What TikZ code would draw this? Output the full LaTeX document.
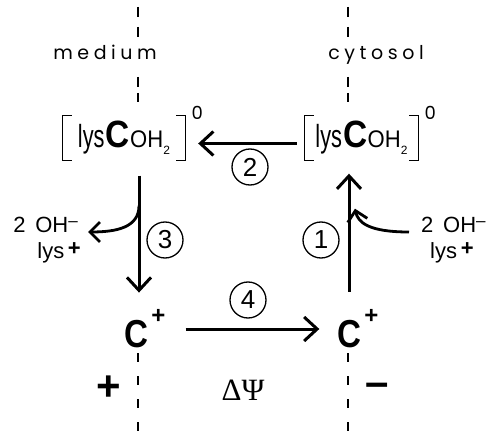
\documentclass[tikz,border=0pt]{standalone}
\usepackage{fontspec}
\usepackage{graphicx}
\setmainfont{Liberation Sans}
\newfontfamily\geofont[LetterSpace=24]{Poppins}
\newfontfamily\zerofont{Poppins}
\newfontfamily\serfont{Liberation Serif}
\usetikzlibrary{arrows.meta,calc}
\newcommand\cplxtext{\scalebox{0.68}[1]{\fontsize{32}{32}\selectfont lys}\kern1pt\scalebox{0.88}[1]{\bfseries\fontsize{38}{38}\selectfont C}\kern0.5pt\scalebox{0.92}[1]{\fontsize{24}{24}\selectfont OH}\raisebox{-7pt}{\fontsize{12}{12}\selectfont 2}}
\newcommand\cplustext{\scalebox{0.85}[1]{\bfseries\fontsize{39}{39}\selectfont C}\rlap{\kern3pt\raisebox{24pt}{\bfseries\fontsize{24}{24}\selectfont +}}}
\begin{document}
\begin{tikzpicture}[x=1pt,y=-1pt,
  memb/.style={line width=1.5pt},
  cplxbox/.style={minimum width=#1, minimum height=45pt, inner sep=0pt},
  brk/.style={line width=1.3pt},
  mainarrow/.style={line width=3pt, -{Straight Barb[length=13pt,width=24pt]}},
  curvearrow/.style={line width=2.8pt, -{Straight Barb[length=10pt,width=20pt]}},
  circnum/.style={circle, draw, line width=1.3pt, minimum size=36pt, inner sep=0pt, font=\fontsize{26}{26}\selectfont},
  ionlbl/.style={font=\fontsize{22}{25}\selectfont, inner sep=0pt},
  membtext/.style={font=\geofont\fontsize{19}{19}\selectfont, inner sep=0pt},
  supz/.style={font=\zerofont\fontsize{18}{18}\selectfont, inner sep=0pt},
  cplus/.style={inner sep=0pt},
  bigsign/.style={inner sep=0pt, font=\bfseries\fontsize{42}{42}\selectfont}
]
\useasboundingbox (0,0) rectangle (488,433);
\coordinate (mL) at (139,0);
\coordinate (mR) at (349,0);
% membrane lines
\draw[memb, dash pattern=on 10pt off 10pt] (138,7) -- (138,37);
\draw[memb, dash pattern=on 10pt off 6pt] (138,77) -- (138,102);
\draw[memb, dash pattern=on 9pt off 14pt] (138,353) -- (138,433);
\draw[memb, dash pattern=on 10pt off 10pt] (348,7) -- (348,37);
\draw[memb, dash pattern=on 10pt off 6pt] (348,77) -- (348,102);
\draw[memb, dash pattern=on 9pt off 14pt] (348,353) -- (348,433);
\node[membtext, anchor=base] (med) at (105,60) {medium};
\node[membtext, anchor=base] (cyt) at (376,60) {cytosol};
% complexes
\node[cplxbox=122pt] (cL) at (124,138) {\cplxtext};
\node[cplxbox=113pt] (cR) at (361.5,138) {\cplxtext};
\draw[brk] ([xshift=9pt]cL.north west) -- (cL.north west) -- (cL.south west) -- ([xshift=9pt]cL.south west);
\draw[brk] ([xshift=-9pt]cL.north east) -- (cL.north east) -- (cL.south east) -- ([xshift=-9pt]cL.south east);
\draw[brk] ([xshift=9pt]cR.north west) -- (cR.north west) -- (cR.south west) -- ([xshift=9pt]cR.south west);
\draw[brk] ([xshift=-9pt]cR.north east) -- (cR.north east) -- (cR.south east) -- ([xshift=-9pt]cR.south east);
\node[supz] (zL) at ([xshift=12pt,yshift=2pt]cL.north east) {0};
\node[supz] (zR) at ([xshift=12pt,yshift=2pt]cR.north east) {0};
% cations
\node[cplus] (pL) at (136.5,329) {\cplustext};
\node[cplus] (pR) at (349.5,329) {\cplustext};
% ions
\node[ionlbl, anchor=base east] (ohL) at (78,233) {2\, OH\raisebox{6pt}{\fontsize{17}{17}\selectfont –}};
\node[ionlbl, anchor=base east] (lysL) at (81,259) {lys\,\raisebox{4pt}{\bfseries +}};
\node[ionlbl, anchor=base west] (ohR) at (421,233) {2\, OH\raisebox{6pt}{\fontsize{17}{17}\selectfont –}};
\node[ionlbl, anchor=base west] (lysR) at (430,259) {lys\,\raisebox{4pt}{\bfseries +}};
% arrows
\draw[mainarrow] ([xshift=-8pt,yshift=-5.5pt]cR.west) -- ([xshift=13pt,yshift=-5.5pt]cL.east);
\draw[mainarrow] ($(cL.south -| mL)+(0,15)$) -- ($(pL.north -| mL)+(0,-17)$);
\draw[mainarrow] ($(pR.north -| mR)+(0,-18)$) -- ($(cR.south -| mR)+(0,13)$);
\draw[mainarrow] ([xshift=37pt]pL.east) -- ([xshift=-18pt]pR.west);
\coordinate (bL) at ($(cL.south -| mL)+(0,45)$);
\draw[curvearrow] (bL) .. controls +(0,22) and +(28,0) .. ($(ohL.base east)+(10,-1)$);
\draw[curvearrow] ($(ohR.base west)+(-12,-1)$) .. controls +(-40,0) and +(3,14) .. ($(cR.south -| mR)+(6,48)$);
% step numbers
\node[circnum] (n1) at (321,240) {1};
\node[circnum] (n2) at (250,167) {2};
\node[circnum] (n3) at (165,240) {3};
\node[circnum] (n4) at (248,300) {4};
% potential
\node[bigsign] (plus) at (109,388) {+};
\node[inner sep=0pt, font=\serfont\fontsize{31}{31}\selectfont] (dpsi) at (243,390) {ΔΨ};
\node[bigsign] (minus) at (377,390) {–};
\end{tikzpicture}
\end{document}
